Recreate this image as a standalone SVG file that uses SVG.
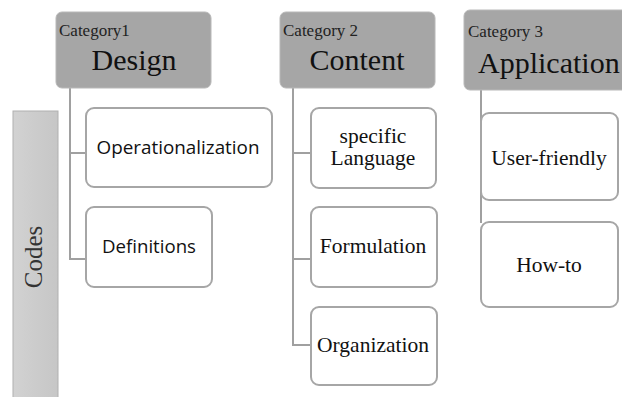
<svg xmlns="http://www.w3.org/2000/svg" width="622" height="397" viewBox="0 0 622 397">
<style>
.cat{fill:#a6a6a6;stroke:#b8b8b8;stroke-width:1}
.box{fill:#fff;stroke:#a6a6a6;stroke-width:2}
.conn{fill:none;stroke:#a0a0a0;stroke-width:2}
.small{font-family:"Liberation Serif",serif;font-size:17px;fill:#222}
.big{font-family:"Liberation Serif",serif;font-size:30px;fill:#111}
.ser{font-family:"Liberation Serif",serif;font-size:21.5px;fill:#111;text-anchor:middle}
.sans{font-family:"Open Sans","Noto Sans",sans-serif;font-size:18px;fill:#111;text-anchor:middle}
</style>
<defs>
<linearGradient id="g" x1="0" y1="0" x2="1" y2="0">
<stop offset="0" stop-color="#d2d2d2"/>
<stop offset="1" stop-color="#c6c6c6"/>
</linearGradient>
</defs>
<rect width="622" height="397" fill="#fff"/>
<g id="codes">
<rect x="13" y="111" width="45" height="290" fill="url(#g)" stroke="#b0b0b0" stroke-width="1"/>
<text x="0" y="0" transform="translate(42,257) rotate(-90)" text-anchor="middle" font-family="Liberation Serif,serif" font-size="25" fill="#333">Codes</text>
</g>
<g id="connectors">
<path class="conn" d="M70,88 V259 H86 M70,153 H86"/>
<path class="conn" d="M293,88 V345 H311 M293,153 H311 M293,259 H311"/>
<path class="conn" d="M481,90 V223"/>
</g>
<g id="cat1">
<rect class="cat" x="56" y="12" width="155" height="76" rx="6"/>
<text class="small" x="59" y="36">Category1</text>
<text class="big" x="134" y="70" text-anchor="middle">Design</text>
</g>
<g id="cat2">
<rect class="cat" x="280" y="12" width="155" height="76" rx="6"/>
<text class="small" x="283" y="36">Category 2</text>
<text class="big" x="357" y="70" text-anchor="middle">Content</text>
</g>
<g id="cat3">
<rect class="cat" x="464" y="10" width="170" height="80" rx="6"/>
<text class="small" x="468" y="37">Category 3</text>
<text class="big" x="478" y="73" font-size="31">Application</text>
</g>
<g id="operationalization">
<rect class="box" x="86" y="108" width="186" height="79" rx="8"/>
<text class="sans" x="178" y="154" textLength="163" lengthAdjust="spacingAndGlyphs">Operationalization</text>
</g>
<g id="definitions">
<rect class="box" x="86" y="207" width="126" height="80" rx="8"/>
<text class="sans" x="149" y="253" textLength="94" lengthAdjust="spacingAndGlyphs">Definitions</text>
</g>
<g id="specific-language">
<rect class="box" x="311" y="108" width="125" height="80" rx="8"/>
<text class="ser" x="373" y="143">specific</text>
<text class="ser" x="373" y="165">Language</text>
</g>
<g id="formulation">
<rect class="box" x="311" y="207" width="126" height="80" rx="8"/>
<text class="ser" x="373" y="253">Formulation</text>
</g>
<g id="organization">
<rect class="box" x="311" y="307" width="126" height="78" rx="8"/>
<text class="ser" x="373" y="352">Organization</text>
</g>
<g id="user-friendly">
<rect class="box" x="481" y="113" width="137" height="87" rx="8"/>
<text class="ser" x="549" y="165">User-friendly</text>
</g>
<g id="how-to">
<rect class="box" x="481" y="222" width="137" height="85" rx="8"/>
<text class="ser" x="549" y="272">How-to</text>
</g>
</svg>
